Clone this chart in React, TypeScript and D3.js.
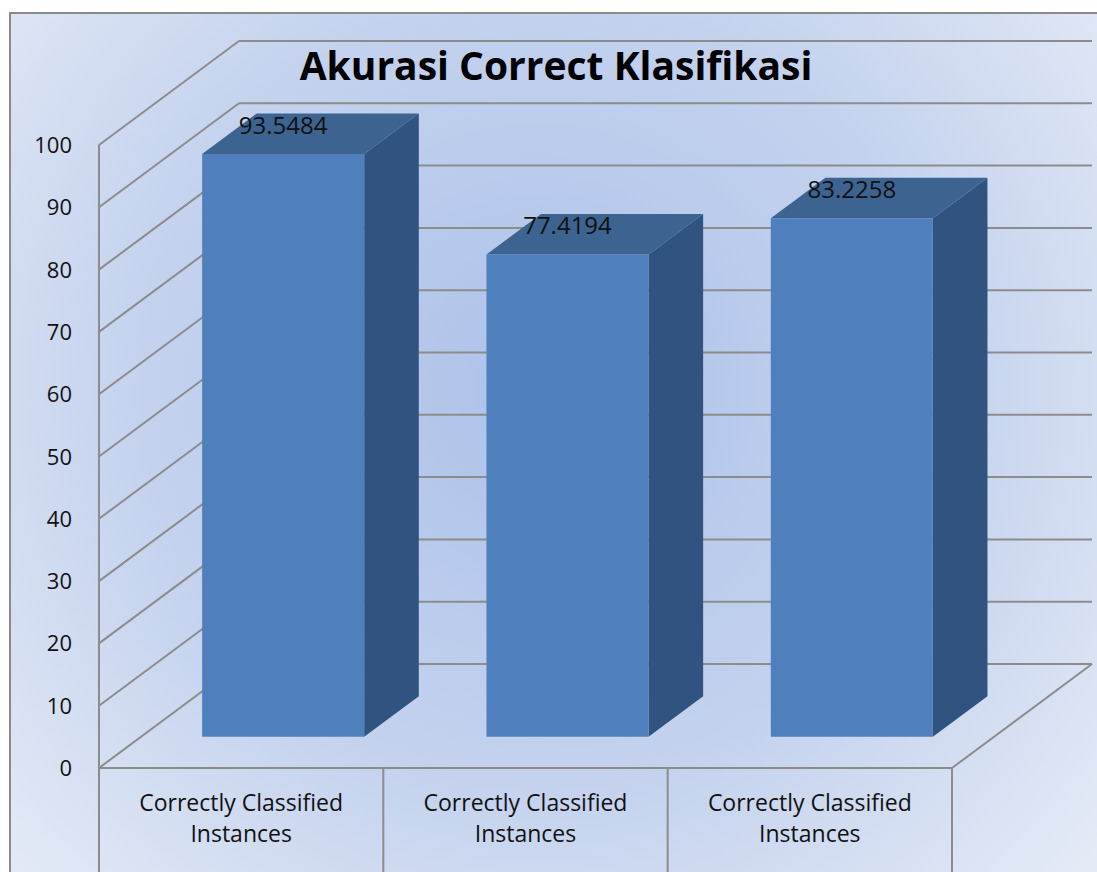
import React from "react";
import * as d3 from "d3";

const categories: string[][] = [
  ["Correctly Classified", "Instances"],
  ["Correctly Classified", "Instances"],
  ["Correctly Classified", "Instances"],
];
const values: number[] = [93.5484, 77.4194, 83.2258];
const valueLabels: string[] = ["93.5484", "77.4194", "83.2258"];
const yTicks: number[] = [0, 10, 20, 30, 40, 50, 60, 70, 80, 90, 100];
const title = "Akurasi Correct Klasifikasi";

const W = 1097;
const H = 872;
const FONT = "'Open Sans', 'DejaVu Sans', sans-serif";

export default function App() {
  const x0 = 99;
  const x1 = 952;
  const y = d3.scaleLinear().domain([0, 100]).range([768, 145]);
  const depth: [number, number] = [140, -104];
  const x = d3.scaleBand<number>().domain(values.map((_, i) => i)).range([x0, x1]).padding(0);
  const barFrac = 0.57;
  const t0 = 0.3;
  const t1 = 0.69;
  const grid = "#8c8c8c";

  const P = (px: number, py: number, t: number) => [px + depth[0] * t, py + depth[1] * t];
  const poly = (pts: number[][]) => pts.map((p) => p.join(",")).join(" ");

  return (
    <svg width={W} height={H} style={{ position: "absolute", left: 0, top: 0 }}>
      <defs>
        <radialGradient id="bg" gradientUnits="userSpaceOnUse" cx={540} cy={390} r={720}>
          <stop offset="0" stopColor="#adc2e9" />
          <stop offset="0.55" stopColor="#c4d2ee" />
          <stop offset="1" stopColor="#e4eaf6" />
        </radialGradient>
      </defs>
      <rect x={0} y={0} width={W} height={H} fill="#ffffff" />
      <rect x={10} y={13} width={W + 20} height={H + 20} fill="url(#bg)" stroke="#8a8a8a" strokeWidth={2} />

      {/* back wall gridlines and side wall diagonals */}
      {yTicks.map((v) => {
        const [bx, by] = P(x0, y(v), 1);
        const [rx] = P(x1, y(v), 1);
        return (
          <g key={"g" + v}>
            <line x1={x0} y1={y(v)} x2={bx} y2={by} stroke={grid} strokeWidth={2} />
            <line x1={bx} y1={by} x2={rx} y2={by} stroke={grid} strokeWidth={2} />
          </g>
        );
      })}
      {/* floor */}
      <line x1={x0} y1={y(0)} x2={x1} y2={y(0)} stroke={grid} strokeWidth={2} />
      {(() => {
        const [bx, by] = P(x1, y(0), 1);
        return <line x1={x1} y1={y(0)} x2={bx} y2={by} stroke={grid} strokeWidth={2} />;
      })()}
      {/* vertical axis */}
      <line x1={x0} y1={y(100)} x2={x0} y2={H + 5} stroke={grid} strokeWidth={2} />
      {/* category dividers */}
      {values.map((_, i) => {
        const xr = (x(i) as number) + x.bandwidth();
        return <line key={"d" + i} x1={xr} y1={y(0)} x2={xr} y2={H + 5} stroke={grid} strokeWidth={2} />;
      })}

      {/* bars */}
      {values.map((v, i) => {
        const cx = (x(i) as number) + x.bandwidth() / 2;
        const bw = x.bandwidth() * barFrac;
        const l = cx - bw / 2;
        const r = cx + bw / 2;
        const fTL = P(l, y(v), t0);
        const fTR = P(r, y(v), t0);
        const fBR = P(r, y(0), t0);
        const fBL = P(l, y(0), t0);
        const bTL = P(l, y(v), t1);
        const bTR = P(r, y(v), t1);
        const bBR = P(r, y(0), t1);
        return (
          <g key={"b" + i}>
            <polygon points={poly([fTR, bTR, bBR, fBR])} fill="#315380" />
            <polygon points={poly([fTL, bTL, bTR, fTR])} fill="#3d6391" />
            <polygon points={poly([fTL, fTR, fBR, fBL])} fill="#4f80bd" />
            <text
              x={(fTL[0] + fTR[0]) / 2}
              y={fTL[1] - 20}
              textAnchor="middle"
              fontFamily={FONT}
              fontSize={24}
              fill="#111"
            >
              {valueLabels[i]}
            </text>
          </g>
        );
      })}

      {/* y tick labels */}
      {yTicks.map((v) => (
        <text key={"t" + v} x={72} y={y(v) + 8} textAnchor="end" fontFamily={FONT} fontSize={22} fill="#111">
          {v}
        </text>
      ))}

      {/* category labels */}
      {categories.map((c, i) => {
        const cx = (x(i) as number) + x.bandwidth() / 2;
        return (
          <text key={"c" + i} textAnchor="middle" fontFamily={FONT} fontSize={23} fill="#111">
            {c.map((line, j) => (
              <tspan key={j} x={cx} y={811 + j * 31}>
                {line}
              </tspan>
            ))}
          </text>
        );
      })}

      <text x={556} y={80} textAnchor="middle" fontFamily={FONT} fontSize={39} fontWeight="bold" fill="#000">
        {title}
      </text>
    </svg>
  );
}
